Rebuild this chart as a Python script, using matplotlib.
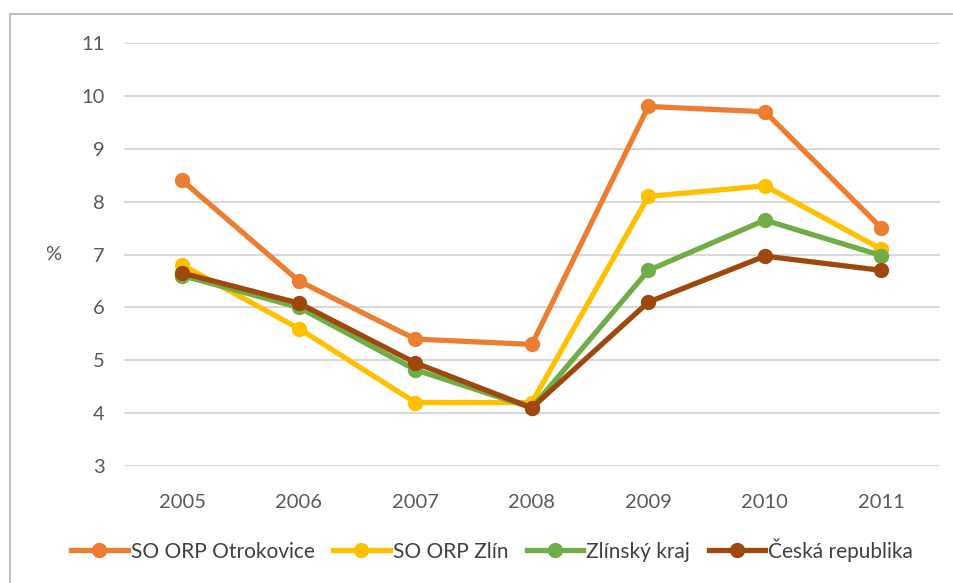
import matplotlib.pyplot as plt
from matplotlib.lines import Line2D

roky = ['2005', '2006', '2007', '2008', '2009', '2010', '2011']
otrokovice = [8.4, 6.5, 5.4, 5.3, 9.8, 9.7, 7.5]
zlin = [6.8, 5.6, 4.2, 4.2, 8.1, 8.3, 7.1]
zlinsky_kraj = [6.6, 6.0, 4.82, 4.1, 6.7, 7.65, 6.98]
cr = [6.65, 6.08, 4.95, 4.1, 6.1, 6.97, 6.7]

nazvy = ['SO ORP Otrokovice', 'SO ORP Zlín', 'Zlínský kraj', 'Česká republika']
barvy = ['#ED7D31', '#FFC000', '#70AD47', '#9E480E']

plt.rcParams['font.family'] = ['Lato', 'DejaVu Sans']

fig = plt.figure(figsize=(9.54, 5.83), dpi=100)
ax = fig.add_axes([0.130, 0.2007, 0.855, 0.7255])

x = range(len(roky))
for data, nazev, barva in zip([otrokovice, zlin, zlinsky_kraj, cr], nazvy, barvy):
    ax.plot(x, data, color=barva, lw=3.8, marker='o', markersize=10,
            label=nazev, solid_joinstyle='round')

ax.set_xlim(-0.5, len(roky) - 0.5)
ax.set_ylim(3, 11)
ax.set_yticks(range(3, 12))
ax.set_xticks(list(x))
ax.set_xticklabels(roky)
ax.grid(axis='y', color='#D9D9D9', lw=1.5)
ax.set_axisbelow(True)
for s in ax.spines.values():
    s.set_visible(False)
ax.tick_params(length=0, labelsize=14.5, labelcolor='#595959')
ax.tick_params(axis='y', pad=14)
ax.tick_params(axis='x', pad=20)

ax.set_ylabel('%', rotation=0, fontsize=14.5, color='#595959', labelpad=20, va='center')

ax.legend(loc='center', bbox_to_anchor=(0.516, 0.057), bbox_transform=fig.transFigure,
          ncol=4, frameon=False, fontsize=15, handlelength=2.7, handletextpad=0.15,
          columnspacing=0.9, labelcolor='#404040')

# ramecek grafu
fig.add_artist(Line2D([0.0105, 0.0105], [0, 0.976], transform=fig.transFigure,
                      color='#BFBFBF', lw=1.5))
fig.add_artist(Line2D([0.0105, 1], [0.976, 0.976], transform=fig.transFigure,
                      color='#BFBFBF', lw=1.5))

fig.savefig('out.png', dpi=100)
